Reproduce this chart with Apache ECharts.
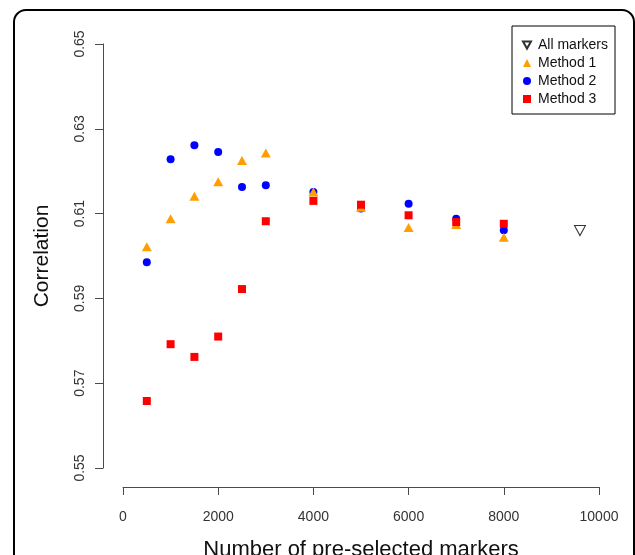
<!DOCTYPE html>
<html>
<head>
<meta charset="utf-8">
<script src="https://cdn.jsdelivr.net/npm/echarts@6/dist/echarts.min.js"></script>
<style>
html,body{margin:0;padding:0;background:#fff;}
#chart{width:635px;height:555px;}
</style>
</head>
<body>
<div id="chart"></div>
<script>
const markerCounts = [500, 1000, 1500, 2000, 2500, 3000, 4000, 5000, 6000, 7000, 8000];
const method1 = [0.6022, 0.6088, 0.6141, 0.6175, 0.6225, 0.6243, 0.6151, 0.6115, 0.6067, 0.6074, 0.6044];
const method2 = [0.5985, 0.6228, 0.6261, 0.6245, 0.6163, 0.6167, 0.6151, 0.6112, 0.6123, 0.6088, 0.6061];
const method3 = [0.5658, 0.5792, 0.5762, 0.5810, 0.5922, 0.6082, 0.6130, 0.6121, 0.6096, 0.6080, 0.6076];
const allMarkersX = [9600];
const allMarkersY = [0.6060];
const yTicks = [0.55, 0.57, 0.59, 0.61, 0.63, 0.65];
const xTicks = [0, 2000, 4000, 6000, 8000, 10000];

const pairs = (xs, ys) => xs.map((x, i) => [x, ys[i]]);
const chart = echarts.init(document.getElementById('chart'), null, {renderer: 'canvas'});
const font = 'Liberation Sans, Arial, sans-serif';
const axisCol = '#4a4a4a';

chart.setOption({
  animation: false,
  backgroundColor: '#fff',
  textStyle: {fontFamily: font},
  grid: {left: 123, right: 36, top: 44, bottom: 87, containLabel: false, outerBoundsMode: 'none'},
  xAxis: {
    type: 'value', min: xTicks[0], max: xTicks[xTicks.length - 1], interval: 2000,
    offset: 19,
    name: 'Number of pre-selected markers', nameLocation: 'middle', nameGap: 52,
    nameTextStyle: {fontSize: 22, color: '#111', fontFamily: font},
    axisLine: {show: true, onZero: false, lineStyle: {color: axisCol, width: 1}},
    axisTick: {show: true, length: 8, lineStyle: {color: axisCol}},
    axisLabel: {fontSize: 14, color: '#333', margin: 23, fontFamily: font,
      showMaxLabel: true, showMinLabel: true, formatter: v => String(v)},
    splitLine: {show: false}
  },
  yAxis: {
    type: 'value', min: yTicks[0], max: yTicks[yTicks.length - 1],
    offset: 20,
    name: 'Correlation', nameLocation: 'middle', nameGap: 50, nameRotate: 90,
    nameTextStyle: {fontSize: 21, color: '#111', fontFamily: font},
    axisLine: {show: true, onZero: false, lineStyle: {color: axisCol, width: 1}},
    axisTick: {show: true, length: 8, lineStyle: {color: axisCol}, customValues: yTicks},
    axisLabel: {fontSize: 14, color: '#333', margin: 16, rotate: 90, fontFamily: font,
      customValues: yTicks, formatter: v => v.toFixed(2)},
    splitLine: {show: false}
  },
  legend: {
    orient: 'vertical', left: 512, top: 26,
    padding: [12, 7, 8, 10],
    itemWidth: 8, itemHeight: 8, itemGap: 4,
    borderColor: '#000', borderWidth: 1, borderRadius: 0,
    textStyle: {fontSize: 14, color: '#111', fontFamily: font, padding: [0, 0, 0, 2]},
    data: ['All markers', 'Method 1', 'Method 2', 'Method 3']
  },
  graphic: [{
    type: 'rect', silent: true, z: 100,
    shape: {x: 14, y: 10, width: 620, height: 600, r: 12},
    style: {fill: 'none', stroke: '#000', lineWidth: 2}
  }],
  series: [
    {
      name: 'All markers', type: 'scatter', z: 2,
      symbol: 'path://M0,0 L10,0 L5,9 Z', symbolSize: [11, 10],
      itemStyle: {color: '#fff', borderColor: '#333', borderWidth: 1, opacity: 1},
      data: pairs(allMarkersX, allMarkersY)
    },
    {
      name: 'Method 2', type: 'scatter', z: 3,
      symbol: 'circle', symbolSize: 8,
      itemStyle: {color: '#0000FF', opacity: 1},
      data: pairs(markerCounts, method2)
    },
    {
      name: 'Method 1', type: 'scatter', z: 4,
      symbol: 'triangle', symbolSize: [10, 9],
      itemStyle: {color: '#FF9E00', opacity: 1},
      data: pairs(markerCounts, method1)
    },
    {
      name: 'Method 3', type: 'scatter', z: 5,
      symbol: 'rect', symbolSize: 8,
      itemStyle: {color: '#FF0000', opacity: 1},
      data: pairs(markerCounts, method3)
    }
  ]
});
</script>
</body>
</html>
